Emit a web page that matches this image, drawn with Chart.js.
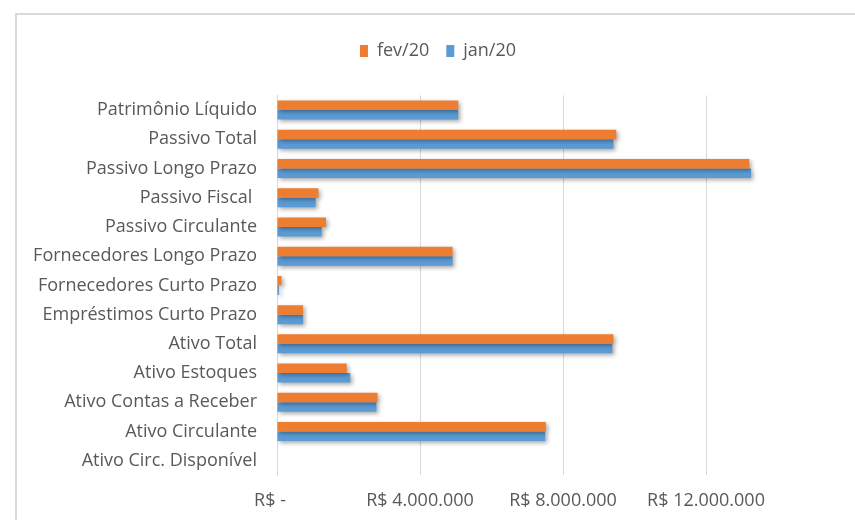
<!DOCTYPE html>
<html>
<head>
<meta charset="utf-8">
<script src="https://cdn.jsdelivr.net/npm/chart.js@4"></script>
<style>
    html, body { margin: 0; padding: 0; background: #fff; overflow: hidden; }
    #frame {
        position: absolute;
        left: 15px;
        top: 13px;
        width: 900px;
        height: 520px;
        border-left: 2px solid #d9d9d9;
        border-top: 2px solid #d9d9d9;
    }
    #wrap { position: absolute; left: 0; top: 0; width: 847px; height: 505px; }
</style>
</head>
<body>
<div id="frame"><div id="wrap"><canvas id="chart"></canvas></div></div>
<script>
const categories = [
    'Patrimônio Líquido',
    'Passivo Total',
    'Passivo Longo Prazo',
    'Passivo Fiscal ',
    'Passivo Circulante',
    'Fornecedores Longo Prazo',
    'Fornecedores Curto Prazo',
    'Empréstimos Curto Prazo',
    'Ativo Total',
    'Ativo Estoques',
    'Ativo Contas a Receber',
    'Ativo Circulante',
    'Ativo Circ. Disponível',
];
const fev20 = [5070000, 9490000, 13210000, 1160000, 1370000, 4910000, 130000, 730000, 9410000, 1950000, 2810000, 7520000, 0];
const jan20 = [5070000, 9410000, 13260000, 1080000, 1250000, 4910000, 60000, 730000, 9380000, 2050000, 2780000, 7500000, 0];
const xTicks = [0, 4000000, 8000000, 12000000];
const xMax = 16000000;

const FONT = '"Open Sans", Lato, sans-serif';
const TEXT = '#595959';

function formatBRL(v) {
    if (v === 0) return 'R$ -   ';
    if (!xTicks.includes(v)) return '';
    return 'R$ ' + String(v).replace(/\B(?=(\d{3})+(?!\d))/g, '.');
}

// Excel-like drop shadow on the bars
const barShadow = {
    id: 'barShadow',
    beforeDatasetsDraw(chart) {
        const ctx = chart.ctx;
        ctx.save();
        ctx.shadowColor = 'rgba(0,0,0,0.35)';
        ctx.shadowBlur = 4;
        ctx.shadowOffsetX = 2;
        ctx.shadowOffsetY = 2;
    },
    afterDatasetsDraw(chart) {
        chart.ctx.restore();
    }
};

// push plot area down below the legend
const legendSpace = {
    id: 'legendSpace',
    beforeInit(chart) {
        const origFit = chart.legend.fit;
        chart.legend.fit = function () {
            origFit.bind(chart.legend)();
            this.height = 70.4;
        };
    }
};

const ctx = document.getElementById('chart');

new Chart(ctx, {
    type: 'bar',
    data: {
        labels: categories,
        datasets: [
            {
                label: 'fev/20',
                data: fev20,
                backgroundColor: '#ED7D31',
                categoryPercentage: 0.65,
                barPercentage: 1.0,
            },
            {
                label: 'jan/20',
                data: jan20,
                backgroundColor: '#5B9BD5',
                categoryPercentage: 0.65,
                barPercentage: 1.0,
            },
        ]
    },
    options: {
        indexAxis: 'y',
        responsive: true,
        maintainAspectRatio: false,
        animation: false,
        layout: { padding: { top: 10, right: 5, left: 0, bottom: 0 } },
        plugins: {
            tooltip: { enabled: false },
            legend: {
                position: 'top',
                labels: {
                    boxWidth: 8,
                    boxHeight: 12,
                    padding: 17,
                    color: TEXT,
                    font: { family: FONT, size: 18 },
                }
            }
        },
        scales: {
            x: {
                min: 0,
                max: xMax,
                border: { display: false },
                grid: {
                    color: (c) => (c.tick && c.tick.value === xMax) ? 'rgba(0,0,0,0)' : '#d9d9d9',
                    drawTicks: false,
                },
                ticks: {
                    stepSize: 4000000,
                    padding: 15,
                    maxRotation: 0,
                    color: TEXT,
                    font: { family: FONT, size: 18 },
                    callback: (v) => formatBRL(v),
                },
                afterFit(scale) { scale.height = 44.6; },
            },
            y: {
                border: { display: true, color: '#d9d9d9' },
                grid: { display: false, drawTicks: false },
                ticks: {
                    padding: 20,
                    autoSkip: false,
                    color: TEXT,
                    font: { family: FONT, size: 18 },
                },
                afterFit(scale) { scale.width = 260; },
            }
        }
    },
    plugins: [barShadow, legendSpace]
});
</script>
</body>
</html>
